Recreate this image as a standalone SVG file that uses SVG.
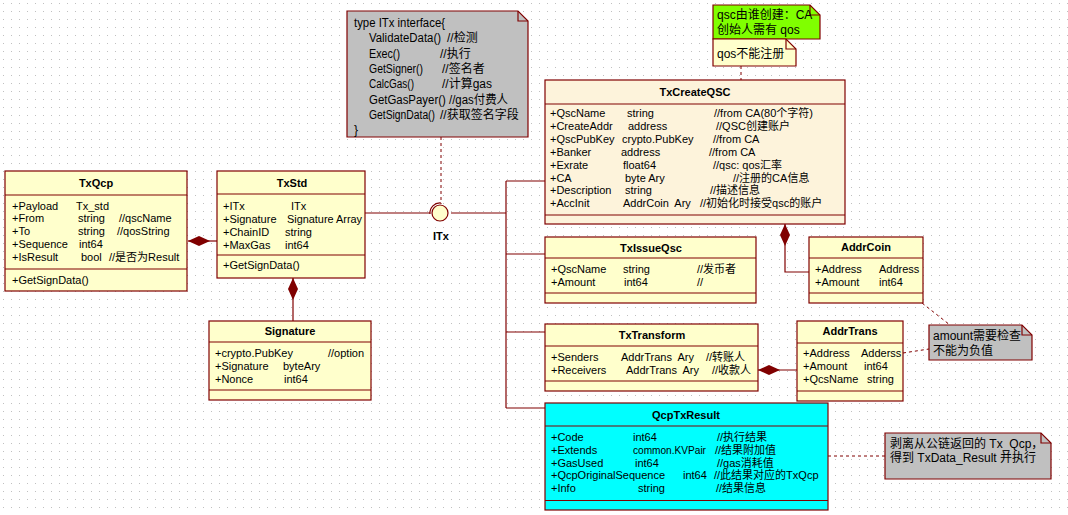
<svg xmlns="http://www.w3.org/2000/svg" width="1068" height="515" viewBox="0 0 1068 515">
<style>
.t{font-family:"Liberation Sans","Noto Sans CJK SC",sans-serif;font-size:11px;fill:#000;white-space:pre}
.b{font-weight:bold}
.m{text-anchor:middle}
.n{font-family:"Liberation Sans","Noto Sans CJK SC",sans-serif;font-size:12px;fill:#000;white-space:pre}
.cls{fill:#ffffcc;stroke:#800000;stroke-width:1.2}
.sep{stroke:#800000;stroke-width:1.2;fill:none}
.ln{stroke:#800000;stroke-width:1.2;fill:none}
.dash{stroke:#800000;stroke-width:1;fill:none;stroke-dasharray:3,3}
.note{stroke:#800000;stroke-width:1.2}
</style>
<defs>
<pattern id="dots" width="8" height="8" patternUnits="userSpaceOnUse" x="3" y="3">
<rect x="0" y="0" width="1" height="1" fill="#c0c0c0"/>
</pattern>
<marker id="dia" viewBox="0 0 22 10" refX="0" refY="5" markerWidth="22" markerHeight="10" markerUnits="userSpaceOnUse" orient="auto">
<path d="M0,5 L11,0 L22,5 L11,10 Z" fill="#800000"/>
</marker>
</defs>
<rect width="1068" height="515" fill="#ffffff"/>
<rect width="1068" height="515" fill="url(#dots)"/>

<g id="connectors">
<path class="ln" d="M188,241 H217" marker-start="url(#dia)"/>
<path class="ln" d="M293,278 V321" marker-start="url(#dia)"/>
<path class="ln" d="M785,224 V272 H809" marker-start="url(#dia)"/>
<path class="ln" d="M758,370 H797" marker-start="url(#dia)"/>
<path class="ln" d="M364,213 H430"/>
<path class="ln" d="M451,213 H506"/>
<path class="ln" d="M506,181 V408"/>
<path class="ln" d="M506,181 H545 M506,254 H545 M506,332 H545 M506,408 H545"/>
<path class="dash" d="M441,137 V204"/>
<path class="dash" d="M741,66 V80"/>
<path class="dash" d="M903,353 L929,349"/>
<path class="dash" d="M908,292 L950,325"/>
<path class="dash" d="M828,456 H885"/>
</g>

<g id="ITx">
<circle cx="440" cy="213" r="8" fill="#ffffcc" stroke="#800000" stroke-width="1.2"/>
<path class="ln" d="M430,214 A10,10 0 0 1 441,203"/>
<text class="t b m" x="441" y="240">ITx</text>
</g>

<g id="note-itx">
<path class="note" fill="#c0c0c0" d="M347,11 H518 L528,21 V137 H347 Z"/>
<path class="ln" d="M518,11 V21 H528"/>
<text class="n" x="354" y="27" textLength="91" lengthAdjust="spacingAndGlyphs">type ITx interface{</text>
<text class="n" x="369" y="42.3" textLength="72" lengthAdjust="spacingAndGlyphs">ValidateData()</text><text class="n" x="447" y="42.3">//检测</text>
<text class="n" x="369" y="57.6" textLength="31" lengthAdjust="spacingAndGlyphs">Exec()</text><text class="n" x="440" y="57.6">//执行</text>
<text class="n" x="369" y="72.9" textLength="54" lengthAdjust="spacingAndGlyphs">GetSigner()</text><text class="n" x="442" y="72.9">//签名者</text>
<text class="n" x="369" y="88.2" textLength="45" lengthAdjust="spacingAndGlyphs">CalcGas()</text><text class="n" x="442" y="88.2">//计算gas</text>
<text class="n" x="369" y="103.5" textLength="139" lengthAdjust="spacingAndGlyphs">GetGasPayer() //gas付费人</text>
<text class="n" x="369" y="118.8" textLength="66" lengthAdjust="spacingAndGlyphs">GetSignData()</text><text class="n" x="440" y="118.8">//获取签名字段</text>
<text class="n" x="354" y="134">}</text>
</g>

<g id="TxQcp">
<rect class="cls" x="5" y="171" width="182" height="120"/>
<path class="sep" d="M5,195 H187 M5,269 H187"/>
<text class="t b m" x="96" y="187">TxQcp</text>
<text class="t" x="12" y="209.5">+Payload</text><text class="t" x="76" y="209.5">Tx_std</text>
<text class="t" x="12" y="222.3">+From</text><text class="t" x="78" y="222.3">string</text><text class="t" x="119" y="222.3">//qscName</text>
<text class="t" x="12" y="235.1">+To</text><text class="t" x="78" y="235.1">string</text><text class="t" x="117" y="235.1">//qosString</text>
<text class="t" x="12" y="247.9">+Sequence</text><text class="t" x="79" y="247.9">int64</text>
<text class="t" x="12" y="260.7">+IsResult</text><text class="t" x="81" y="260.7">bool</text><text class="t" x="109" y="260.7">//是否为Result</text>
<text class="t" x="12" y="284">+GetSignData()</text>
</g>

<g id="TxStd">
<rect class="cls" x="217" y="171" width="148" height="107"/>
<path class="sep" d="M217,194 H365 M217,255 H365"/>
<text class="t b m" x="292" y="187">TxStd</text>
<text class="t" x="223" y="209.5">+ITx</text><text class="t" x="291" y="209.5">ITx</text>
<text class="t" x="223" y="222.5">+Signature</text><text class="t" x="287" y="222.5" textLength="75" lengthAdjust="spacingAndGlyphs">Signature Array</text>
<text class="t" x="223" y="235.5">+ChainID</text><text class="t" x="285" y="235.5">string</text>
<text class="t" x="223" y="248.5">+MaxGas</text><text class="t" x="285" y="248.5">int64</text>
<text class="t" x="223" y="269">+GetSignData()</text>
</g>

<g id="Signature">
<rect class="cls" x="209" y="321" width="162" height="79"/>
<path class="sep" d="M209,342 H371 M209,390 H371"/>
<text class="t b m" x="290" y="335">Signature</text>
<text class="t" x="215" y="357">+crypto.PubKey</text><text class="t" x="328" y="357">//option</text>
<text class="t" x="215" y="370">+Signature</text><text class="t" x="283" y="370">byteAry</text>
<text class="t" x="215" y="383">+Nonce</text><text class="t" x="284" y="383">int64</text>
</g>

<g id="note-qsc">
<path class="note" fill="#80ff00" d="M713,5 H810 L820,15 V39 H713 Z"/>
<path class="ln" d="M810,5 V15 H820"/>
<text class="n" x="717" y="19">qsc由谁创建：CA</text>
<text class="n" x="717" y="34">创始人需有 qos</text>
</g>

<g id="note-qos">
<path class="note" fill="#ffffcc" d="M713,39 H786 L796,49 V66 H713 Z"/>
<path class="ln" d="M786,39 V49 H796"/>
<text class="n" x="717" y="57.5">qos不能注册</text>
</g>

<g id="TxCreateQSC">
<rect class="cls" x="545" y="80" width="300" height="144" style="fill:#fdf3db"/>
<path class="sep" d="M545,104 H845 M545,215 H845"/>
<text class="t b m" x="695" y="96">TxCreateQSC</text>
<text class="t" x="550" y="117.3">+QscName</text><text class="t" x="627" y="117.3">string</text><text class="t" x="714" y="117.3">//from CA(80个字符)</text>
<text class="t" x="550" y="130.2">+CreateAddr</text><text class="t" x="628" y="130.2">address</text><text class="t" x="716" y="130.2">//QSC创建账户</text>
<text class="t" x="550" y="143">+QscPubKey</text><text class="t" x="622" y="143">crypto.PubKey</text><text class="t" x="713" y="143">//from CA</text>
<text class="t" x="550" y="155.9">+Banker</text><text class="t" x="621" y="155.9">address</text><text class="t" x="709" y="155.9">//from CA</text>
<text class="t" x="550" y="168.7">+Exrate</text><text class="t" x="623" y="168.7">float64</text><text class="t" x="713" y="168.7">//qsc: qos汇率</text>
<text class="t" x="550" y="181.6">+CA</text><text class="t" x="625" y="181.6">byte Ary</text><text class="t" x="733" y="181.6">//注册的CA信息</text>
<text class="t" x="550" y="194.4">+Description</text><text class="t" x="625" y="194.4">string</text><text class="t" x="710" y="194.4">//描述信息</text>
<text class="t" x="550" y="207.3">+AccInit</text><text class="t" x="623" y="207.3">AddrCoin  Ary</text><text class="t" x="700" y="207.3">//初始化时接受qsc的账户</text>
</g>

<g id="TxIssueQsc">
<rect class="cls" x="545" y="237" width="211" height="66"/>
<path class="sep" d="M545,258 H756 M545,293 H756"/>
<text class="t b m" x="651" y="252">TxIssueQsc</text>
<text class="t" x="551" y="273">+QscName</text><text class="t" x="623" y="273">string</text><text class="t" x="697" y="273">//发币者</text>
<text class="t" x="551" y="285.7">+Amount</text><text class="t" x="624" y="285.7">int64</text><text class="t" x="697" y="285.7">//</text>
</g>

<g id="AddrCoin">
<rect class="cls" x="809" y="237" width="114" height="66"/>
<path class="sep" d="M809,258 H923 M809,293 H923"/>
<text class="t b m" x="866" y="251">AddrCoin</text>
<text class="t" x="815" y="273.3">+Address</text><text class="t" x="879" y="273.3">Address</text>
<text class="t" x="815" y="286">+Amount</text><text class="t" x="879" y="286">int64</text>
</g>

<g id="TxTransform">
<rect class="cls" x="545" y="324" width="213" height="67"/>
<path class="sep" d="M545,346 H758 M545,381 H758"/>
<text class="t b m" x="652" y="339">TxTransform</text>
<text class="t" x="551" y="360.7">+Senders</text><text class="t" x="621" y="360.7">AddrTrans  Ary</text><text class="t" x="706" y="360.7">//转账人</text>
<text class="t" x="551" y="374">+Receivers</text><text class="t" x="626" y="374">AddrTrans  Ary</text><text class="t" x="712" y="374">//收款人</text>
</g>

<g id="AddrTrans">
<rect class="cls" x="797" y="321" width="106" height="80"/>
<path class="sep" d="M797,343 H903 M797,391 H903"/>
<text class="t b m" x="850" y="335">AddrTrans</text>
<text class="t" x="803" y="357.3">+Address</text><text class="t" x="861" y="357.3">Adderss</text>
<text class="t" x="803" y="370">+Amount</text><text class="t" x="864" y="370">int64</text>
<text class="t" x="803" y="383.3">+QcsName</text><text class="t" x="867" y="383.3">string</text>
</g>

<g id="note-amount">
<path class="note" fill="#c0c0c0" d="M929,325 H1022 L1032,335 V360 H929 Z"/>
<path class="ln" d="M1022,325 V335 H1032"/>
<text class="n" x="933" y="339.5">amount需要检查</text>
<text class="n" x="933" y="355">不能为负值</text>
</g>

<g id="QcpTxResult">
<rect class="cls" x="545" y="403" width="283" height="107" style="fill:#00ffff"/>
<path class="sep" d="M545,426 H828 M545,500.5 H828"/>
<text class="t b m" x="686" y="419">QcpTxResult</text>
<text class="t" x="551" y="441.3">+Code</text><text class="t" x="633" y="441.3">int64</text><text class="t" x="717" y="441.3">//执行结果</text>
<text class="t" x="551" y="454">+Extends</text><text class="t" x="633" y="454" textLength="73" lengthAdjust="spacingAndGlyphs">common.KVPair</text><text class="t" x="715" y="454">//结果附加值</text>
<text class="t" x="551" y="466.7">+GasUsed</text><text class="t" x="635" y="466.7">int64</text><text class="t" x="717" y="466.7">//gas消耗值</text>
<text class="t" x="551" y="479.4">+QcpOriginalSequence</text><text class="t" x="683" y="479.4">int64</text><text class="t" x="714" y="479.4">//此结果对应的TxQcp</text>
<text class="t" x="551" y="492.1">+Info</text><text class="t" x="638" y="492.1">string</text><text class="t" x="716" y="492.1">//结果信息</text>
</g>

<g id="note-result">
<path class="note" fill="#c0c0c0" d="M885,433 H1041 L1051,443 V479 H885 Z"/>
<path class="ln" d="M1041,433 V443 H1051"/>
<text class="n" x="890" y="448">剥离从公链返回的 Tx_Qcp，</text>
<text class="n" x="890" y="462">得到 TxData_Result 并执行</text>
</g>
</svg>
